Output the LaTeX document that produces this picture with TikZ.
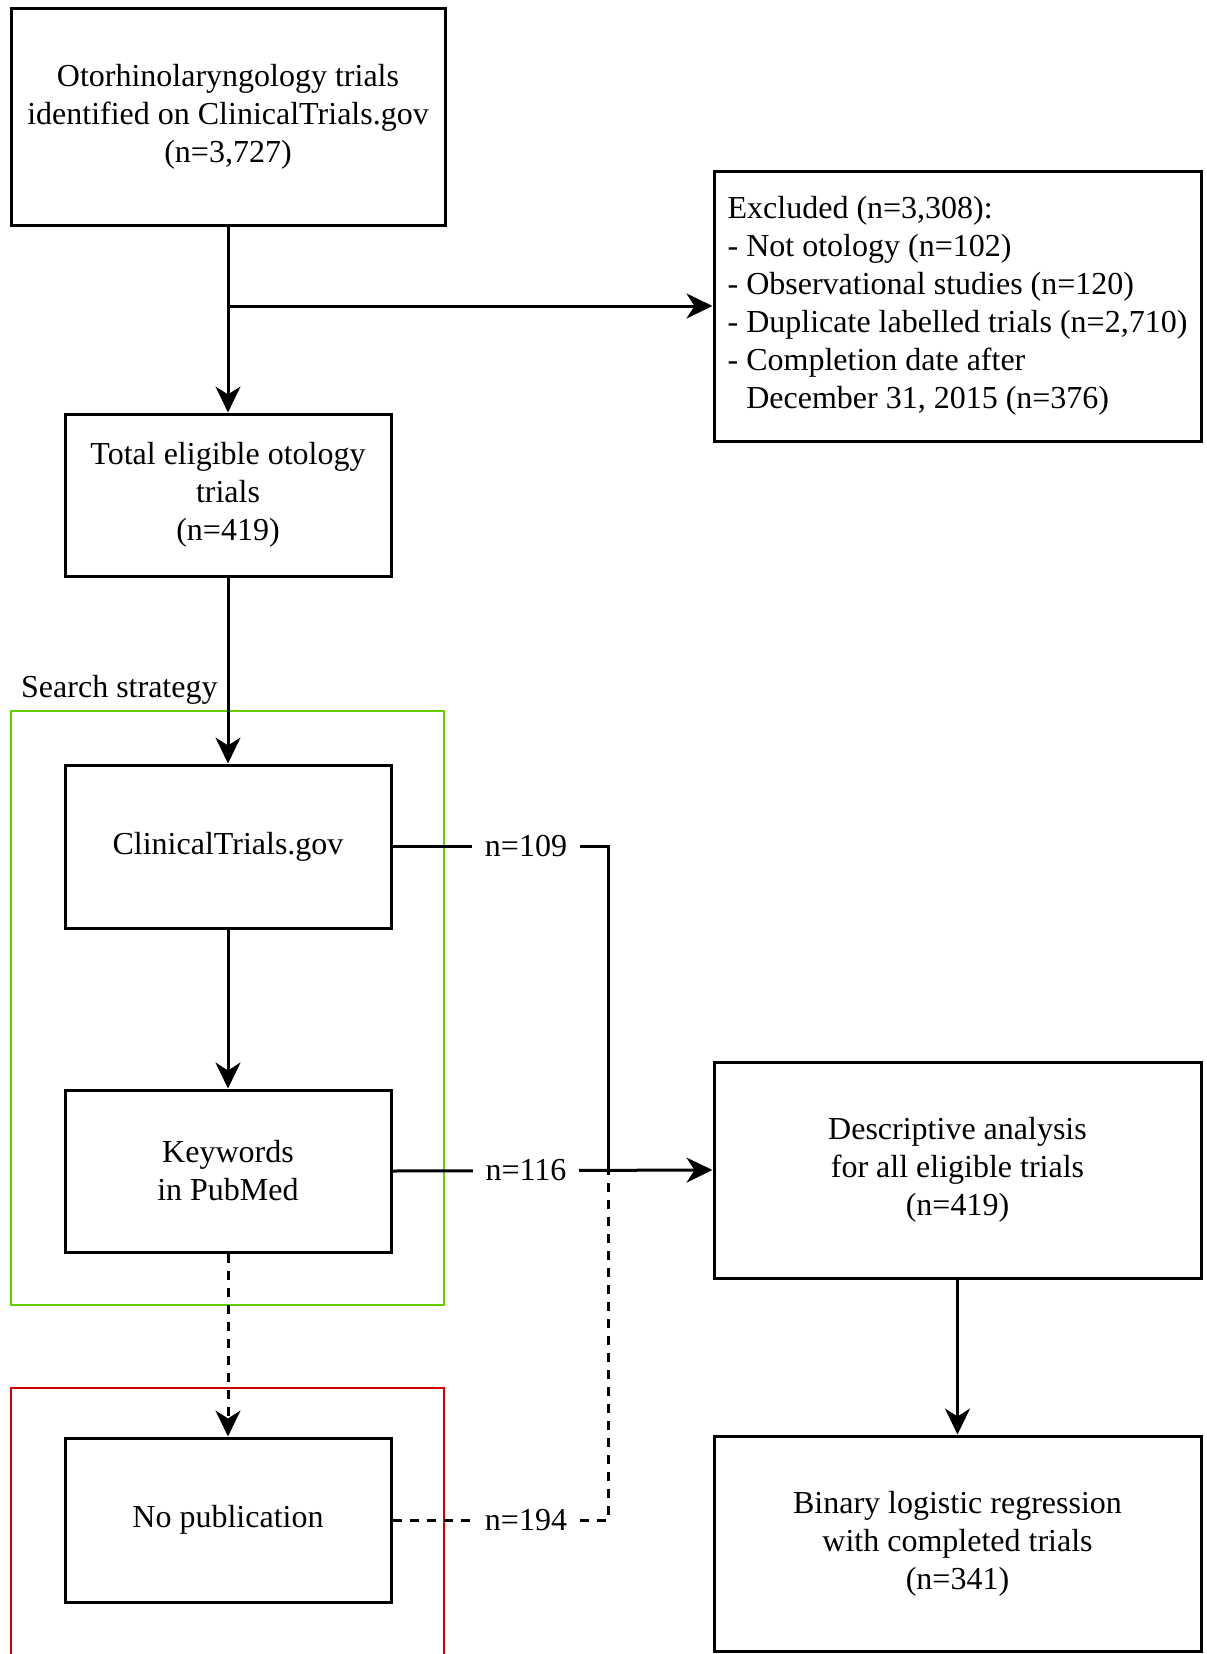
\documentclass[tikz,border=0pt]{standalone}
\usepackage{fontspec}
\setmainfont{Liberation Serif}
\usetikzlibrary{arrows.meta}
\definecolor{grn}{RGB}{102,204,0}
\definecolor{rd}{RGB}{204,0,0}
\begin{document}
\begin{tikzpicture}[x=1pt,y=-1pt,
  font=\fontsize{32pt}{38pt}\selectfont,
  box/.style={draw=black,line width=3pt,align=center,inner sep=0pt,minimum width=326pt,minimum height=163pt},
  wbox/.style={box,minimum width=487pt,minimum height=216pt},
  conn/.style={line width=3pt,draw=black},
  arr/.style={conn,-{Stealth[length=26pt,width=25pt,inset=8pt]}},
  dsh/.style={dash pattern=on 9pt off 8pt},
  lbl/.style={fill=white,inner xsep=12.5pt,inner ysep=4pt}
]
\useasboundingbox (0,0) rectangle (1207,1654);
\fill[white] (0,0) rectangle (1207,1654);

% group frames
\draw[grn,line width=2.8pt] (11,711) rectangle (444,1305);
\draw[rd,line width=2.8pt] (11,1664) -- (11,1388) -- (444,1388) -- (444,1664);
\node[anchor=base west,inner sep=0pt] (ss) at (21,697) {Search strategy};

% nodes
\node[box,minimum width=434pt,minimum height=216pt] (top) at (228,117)
  {Otorhinolaryngology trials\\identified on ClinicalTrials.gov\\(n=3,727)};
\node[wbox,minimum height=270pt,align=left] (excl) at (957.5,306)
  {Excluded (n=3,308):\\- Not otology (n=102)\\- Observational studies (n=120)\\- Duplicate labelled trials (n=2,710)\\- Completion date after\\\phantom{- }December 31, 2015 (n=376)};
\node[box,minimum height=162pt] (total) at (228,495) {Total eligible otology\\trials\\(n=419)};
\node[box] (ct) at (228,846.5) {ClinicalTrials.gov};
\node[box,minimum height=162pt] (kw) at (228,1171) {Keywords\\in PubMed};
\node[box,minimum height=164pt] (nopub) at (228,1520) {No publication};
\node[wbox] (desc) at (957.5,1170) {Descriptive analysis\\for all eligible trials\\(n=419)};
\node[wbox,minimum height=215pt] (bin) at (957.5,1543.5) {Binary logistic regression\\with completed trials\\(n=341)};
\coordinate (jn) at (608,1170);

% connectors
\draw[arr] (top.south) -- (total.north);
\draw[arr] (top.south |- excl.west) -- (excl.west);
\draw[arr] (total.south) -- (ct.north);
\draw[arr] (ct.south) -- (kw.north);
\draw[arr,dsh] (kw.south) -- (nopub.north);
\draw[conn] (ct.east) -| (jn);
\draw[arr] (kw.east) -- (desc.west);
\draw[conn,dsh] (nopub.east) -| (jn);
\draw[arr] (desc.south) -- (bin.north);

% labels
\node[lbl] (l109) at (526,846.5) {n=109};
\node[lbl] (l116) at (526,1170) {n=116};
\node[lbl] (l194) at (526,1520) {n=194};
\end{tikzpicture}
\end{document}
